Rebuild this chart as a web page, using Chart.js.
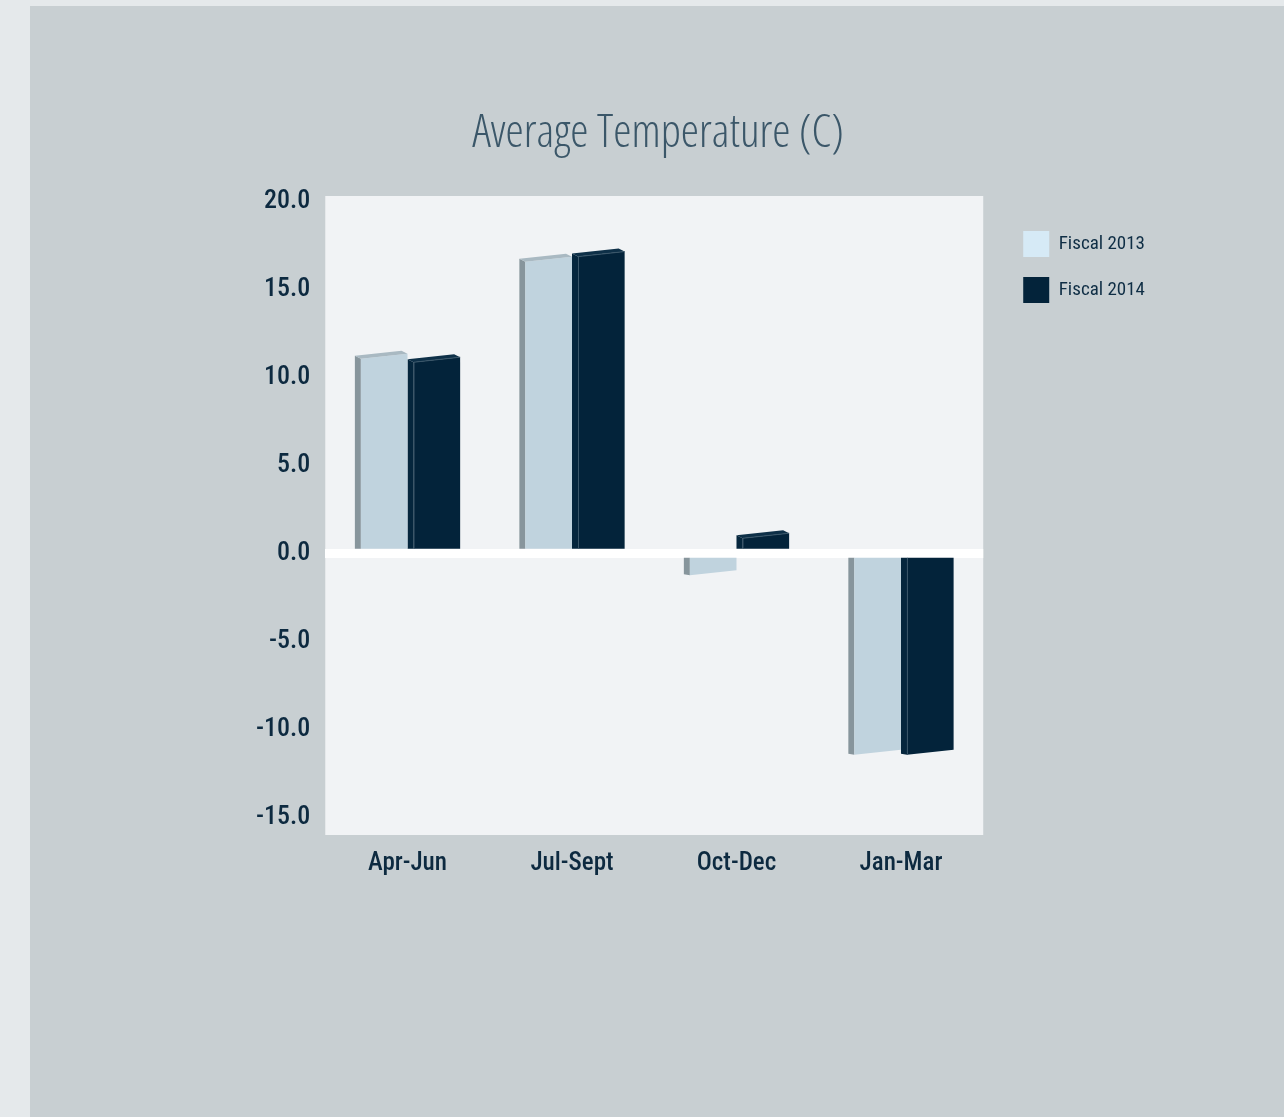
<!DOCTYPE html>
<html>
<head>
<meta charset="utf-8">
<script src="https://cdn.jsdelivr.net/npm/chart.js@4"></script>
<style>
  body { margin: 0; background: #e5e9eb; }
  #panel { position: absolute; left: 30px; top: 6px; width: 1254px; height: 1111px; background: #c8cfd2; }
</style>
</head>
<body>
<div id="panel"><canvas id="temps" width="1254" height="1111"></canvas></div>
<script>
  let quarters = ['Apr-Jun', 'Jul-Sept', 'Oct-Dec', 'Jan-Mar'];
  let fiscal2013 = [11.2, 16.7, -1.1, -11.3];
  let fiscal2014 = [11.0, 17.0, 1.0, -11.3];
  let yTicks = [-15, -10, -5, 0, 5, 10, 15, 20];

  const LABEL_FONT = 'Roboto';
  // front, side, top colours for the fake 3d look
  const faces = [
    { front: '#c0d3de', side: '#87959c', top: '#a9b9c2', edge: null },
    { front: '#03233a', side: '#05263d', top: '#0e3048', edge: '#3a5669' }
  ];

  // light plot background
  const plotBg = {
    id: 'plotBg',
    beforeDraw(chart) {
      let a = chart.chartArea;
      chart.ctx.save();
      chart.ctx.fillStyle = '#f1f3f5';
      chart.ctx.fillRect(a.left, a.top, a.right - a.left, a.bottom - a.top);
      chart.ctx.restore();
    }
  };

  // push the legend away from the plot, pull the title left a bit
  const nudge = {
    id: 'nudge',
    afterLayout(chart) {
      let lg = chart.legend;
      lg.left += 20; lg.right += 20;
      lg.top += 15; lg.bottom += 15;
      let tb = chart.titleBlock;
      tb.left -= 30; tb.right -= 30;
    }
  };

  // draws each bar as a slightly skewed box
  const bar3d = {
    id: 'bar3d',
    beforeDatasetDraw(chart, args) {
      let ctx = chart.ctx;
      let f = faces[args.index];
      let a = chart.chartArea;
      ctx.save();
      ctx.beginPath();
      ctx.rect(a.left, a.top, a.right - a.left, a.bottom - a.top);
      ctx.clip();
      args.meta.data.forEach(bar => {
        let p = bar.getProps(['x', 'y', 'base', 'width'], true);
        let L = p.x - p.width / 2, R = p.x + p.width / 2;
        let d = 6, s = 5, up = p.y < p.base;
        let yl = p.y + s / 2, yr = p.y - s / 2;
        // side
        ctx.fillStyle = f.side;
        ctx.beginPath();
        ctx.moveTo(L, p.base);
        ctx.lineTo(L, up ? yl - 3 : yl - 1);
        ctx.lineTo(L + d, yl);
        ctx.lineTo(L + d, p.base);
        ctx.closePath();
        ctx.fill();
        // front
        ctx.fillStyle = f.front;
        ctx.beginPath();
        ctx.moveTo(L + d, p.base);
        ctx.lineTo(L + d, yl);
        ctx.lineTo(R, yr);
        ctx.lineTo(R, p.base);
        ctx.closePath();
        ctx.fill();
        // top
        if (up) {
          ctx.fillStyle = f.top;
          ctx.beginPath();
          ctx.moveTo(L, yl - 3);
          ctx.lineTo(R - d, yr - 3);
          ctx.lineTo(R, yr);
          ctx.lineTo(L + d, yl);
          ctx.closePath();
          ctx.fill();
        }
        if (f.edge) {
          ctx.strokeStyle = f.edge;
          ctx.lineWidth = 1;
          ctx.beginPath();
          ctx.moveTo(L + d + 0.5, p.base);
          ctx.lineTo(L + d + 0.5, yl);
          if (up) ctx.lineTo(R, yr);
          ctx.stroke();
        }
      });
      ctx.restore();
      return false;
    }
  };

  let ctx = document.getElementById('temps').getContext('2d');
  let chart = new Chart(ctx, {
    type: 'bar',
    data: {
      labels: quarters,
      datasets: [{
        label: 'Fiscal 2013',
        backgroundColor: '#d6eaf6',
        borderWidth: 0,
        data: fiscal2013,
      }, {
        label: 'Fiscal 2014',
        backgroundColor: '#03233a',
        borderWidth: 0,
        data: fiscal2014,
      }]
    },
    options: {
      responsive: false,
      animation: false,
      barPercentage: 1,
      categoryPercentage: 0.64,
      layout: { padding: { left: 211, right: 149, top: 0, bottom: 232 } },
      plugins: {
        title: {
          display: true,
          text: 'Average Temperature (C)',
          color: '#3b5769',
          font: { family: "'Open Sans'", size: 46, weight: '300 condensed' },
          padding: { top: 100.4, bottom: 34.4 }
        },
        legend: {
          position: 'right',
          align: 'start',
          fullSize: false,
          labels: {
            boxWidth: 26,
            boxHeight: 26,
            padding: 20,
            color: '#0f2e45',
            font: { family: LABEL_FONT, size: 19, weight: 'normal condensed' }
          }
        },
        tooltip: { enabled: false }
      },
      scales: {
        x: {
          grid: { display: false },
          border: { display: false },
          ticks: { color: '#0d2a40', padding: 6, font: { family: LABEL_FONT, size: 25, weight: '500 condensed' } }
        },
        y: {
          min: -16,
          max: 20.3,
          z: 1,
          afterBuildTicks: scale => { scale.ticks = yTicks.map(v => ({ value: v })); },
          grid: {
            drawTicks: false,
            lineWidth: 9,
            color: c => c.tick && c.tick.value === 0 ? '#ffffff' : 'rgba(0,0,0,0)'
          },
          border: { display: false },
          ticks: {
            color: '#0d2a40',
            padding: 15,
            font: { family: LABEL_FONT, size: 26, weight: '500 condensed' },
            callback: v => v.toFixed(1)
          }
        }
      }
    },
    plugins: [plotBg, bar3d, nudge]
  });
</script>
</body>
</html>
